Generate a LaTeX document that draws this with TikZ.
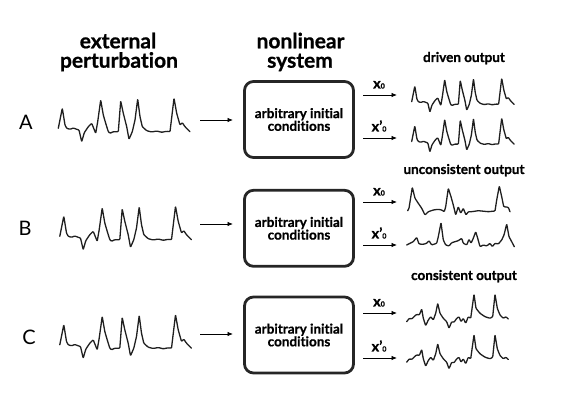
\documentclass[tikz,border=0pt]{standalone}
\usepackage{fontspec}
\setmainfont{Lato}[Ligatures=NoCommon, BoldFeatures={FakeBold=0.8}]
\usetikzlibrary{arrows.meta}
\newcommand\xzerolab{{\fontsize{14.5}{14}\selectfont\bfseries x}{\fontsize{7}{7}\selectfont\bfseries 0}}
\newcommand\xpzerolab{{\fontsize{14.5}{14}\selectfont\bfseries x’}{\fontsize{7}{7}\selectfont\bfseries 0}}
\tikzset{
  wavestyle/.style={line width=1.3pt, line join=round, line cap=round, rounded corners=0.8pt, black!88},
  arrowstyle/.style={line width=0.8pt, -{Latex[length=5.5pt,width=4.5pt]}},
  boxstyle/.style={draw=black!85, line width=2.8pt, rounded corners=9pt, minimum width=109pt, minimum height=76pt, align=center, font=\fontsize{13.5}{12.7}\selectfont\bfseries, inner sep=0pt},
  headstyle/.style={font=\fontsize{21}{21}\selectfont\bfseries, anchor=base, inner sep=0pt},
  substyle/.style={font=\fontsize{13.5}{13.5}\selectfont\bfseries, anchor=base, inner sep=0pt},
  letterstyle/.style={font=\fontsize{20}{20}\selectfont, anchor=base, inner sep=0pt},
  labstyle/.style={anchor=base, inner sep=0pt},
  inwave/.pic={\draw[wavestyle] (58.3,128.3) -- (62.3,108.3) -- (65,125) -- (66.7,128.3) -- (70,129.3) -- (73.3,128) -- (76.7,129.3) -- (79,130) -- (81.7,141.7) -- (84.3,132.7) -- (88.3,126.7) -- (91.7,123.3) -- (95.7,133.3) -- (97.7,121.7) -- (100.7,100) -- (103.3,115) -- (105.7,123.3) -- (108.3,131.7) -- (110,133.3) -- (113.3,131.7) -- (118.3,131.7) -- (120.7,101) -- (123.3,113.3) -- (126.7,126.7) -- (129,139.3) -- (132.3,131.7) -- (135,120) -- (137.7,99) -- (140,116.7) -- (142.3,126.7) -- (146.7,130.7) -- (151.7,132) -- (156.7,131) -- (161.7,132.3) -- (166.7,131.3) -- (170,131.7) -- (174,98.3) -- (176.7,113.3) -- (180,125) -- (182.3,122.7) -- (185,126.7) -- (190,131.7);},
  cwave/.pic={\draw[wavestyle] (406.7,321.7) -- (409.3,318.3) -- (411.7,319) -- (414,316.7) -- (416.7,314.3) -- (419.3,315) -- (421.7,309) -- (423.3,318.3) -- (425.7,325.7) -- (428.3,320) -- (430.7,316.7) -- (433.3,320) -- (435.7,313.3) -- (437.7,303.3) -- (440,313.3) -- (443.3,318.3) -- (446.7,321.7) -- (449,328.3) -- (451.7,321.7) -- (454,322.3) -- (456.7,318.3) -- (459,316.7) -- (461,321.7) -- (463.3,318.3) -- (465.7,323.3) -- (468.3,316.7) -- (470.7,318.3) -- (474,294.3) -- (476,308.3) -- (480,313.3) -- (485,316.7) -- (490,318.3) -- (492.7,316.7) -- (495,294.3) -- (497.3,308.3) -- (500,315) -- (503.3,318.3) -- (506,316.7) -- (508.3,319);}
}
\begin{document}
\begin{tikzpicture}[x=1pt,y=-1pt]
\useasboundingbox (0,0) rectangle (581,411);
% headings
\node[headstyle] (hextA) at (118,48.3) {external};
\node[headstyle] (hextB) at (119,67.7) {perturbation};
\node[headstyle] (hsysA) at (300.5,48.3) {nonlinear};
\node[headstyle] (hsysB) at (300,67.7) {system};
\node[substyle] (outA) at (464,62) {driven output};
\node[substyle] (outB) at (464,174) {unconsistent output};
\node[substyle] (outC) at (464,280) {consistent output};
% row letters
\node[letterstyle] (lA) at (26,130) {A};
\node[letterstyle] (lB) at (25,236) {B};
\node[letterstyle] (lC) at (29,345) {C};
% input waves
\pic {inwave};
\pic at (1.5,108) {inwave};
\pic at (1.5,216.5) {inwave};
% boxes
\node[boxstyle] (boxA) at (299,119.5) {arbitrary initial\\conditions};
\node[boxstyle] (boxB) at (299,228.3) {arbitrary initial\\conditions};
\node[boxstyle] (boxC) at (299,335) {arbitrary initial\\conditions};
% input arrows
\coordinate (iaA) at (200,120); \coordinate (ibA) at (233,120);
\coordinate (iaB) at (200,224); \coordinate (ibB) at (233,224);
\coordinate (iaC) at (200,334); \coordinate (ibC) at (233,334);
\draw[arrowstyle] (iaA) -- (ibA);
\draw[arrowstyle] (iaB) -- (ibB);
\draw[arrowstyle] (iaC) -- (ibC);
% output arrows
\foreach \r/\ya/\yb in {A/95/138, B/202/245, C/313/358}{
  \coordinate (oa\r1) at (363,\ya); \coordinate (ob\r1) at (397,\ya);
  \coordinate (oa\r2) at (363,\yb); \coordinate (ob\r2) at (397,\yb);
  \draw[arrowstyle] (oa\r1) -- (ob\r1);
  \draw[arrowstyle] (oa\r2) -- (ob\r2);
  \node[labstyle] (x\r1) at (379,\ya-6.5) {\xzerolab};
  \node[labstyle] (x\r2) at (379,\yb-6.5) {\xpzerolab};
}
% output waves A (driven)
\begin{scope}[shift={(411.7,101.7)}, scale=0.778, shift={(-58.3,-128.3)}]
\pic[transform shape] {inwave};
\end{scope}
\begin{scope}[shift={(411.7,141.5)}, scale=0.778, shift={(-58.3,-128.3)}]
\pic[transform shape] {inwave};
\end{scope}
% output waves B (unconsistent)
\draw[wavestyle] (407.7,210.7) -- (409,208.3) -- (412.3,187.3) -- (415,198.3) -- (418.3,203.3) -- (421.7,208.3) -- (425,215) -- (428.3,211.7) -- (433.3,210) -- (438.3,209.3) -- (441.7,210) -- (444.3,211.7) -- (445.7,206.7) -- (448.3,188.3) -- (451,196.7) -- (453.3,205) -- (455.7,215) -- (458.3,206.7) -- (460.7,213.3) -- (463.3,208.3) -- (466,215) -- (468.3,211.7) -- (471.7,211.7) -- (478.3,210.7) -- (488.3,211.7) -- (495,211) -- (496.7,200) -- (499.3,186) -- (501.7,196.7) -- (503.7,206.7) -- (508.3,207.3) -- (510,211.7);
\draw[wavestyle] (406.7,245) -- (410,243.3) -- (413.3,241.7) -- (416.7,237.3) -- (419,244) -- (423.3,244.3) -- (426.7,243.3) -- (429,240.7) -- (431.7,245) -- (436.7,243.3) -- (438.3,236.7) -- (441,222.7) -- (443.3,240) -- (445.7,245) -- (449,246) -- (451.7,242.7) -- (455,241.7) -- (458.3,240.7) -- (461.7,238.3) -- (463.3,243.3) -- (466.7,245) -- (469,239.3) -- (471,243.3) -- (473.3,238.3) -- (475.7,231.7) -- (477.7,238.3) -- (480,246.7) -- (483.3,245) -- (486.7,246) -- (490,243.3) -- (492.3,246.7) -- (495,243.3) -- (498.3,244) -- (501.7,240) -- (504,235) -- (506.7,224) -- (509,236.7) -- (511.7,241.7) -- (514.3,246.7);
% output waves C (consistent)
\pic {cwave};
\pic at (0,40.5) {cwave};
\end{tikzpicture}
\end{document}
